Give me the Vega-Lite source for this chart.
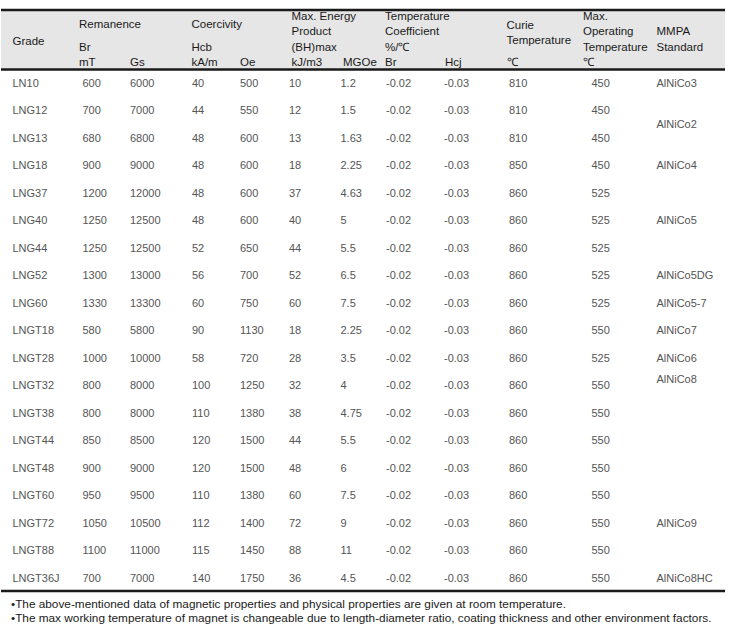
{
  "$schema": "https://vega.github.io/schema/vega-lite/v6.json",
  "width": 740,
  "height": 635,
  "padding": 0,
  "autosize": {"type": "none"},
  "background": "white",
  "config": {
    "view": {"stroke": null},
    "text": {"font": "Liberation Sans", "fontSize": 11}
  },
  "datasets": {
    "grades": [
      {"Grade": "LN10", "mT": 600, "Gs": 6000, "kAm": 40, "Oe": 500, "kJm3": 10, "MGOe": 1.2, "Br": -0.02, "Hcj": -0.03, "Curie": 810, "MaxOp": 450},
      {"Grade": "LNG12", "mT": 700, "Gs": 7000, "kAm": 44, "Oe": 550, "kJm3": 12, "MGOe": 1.5, "Br": -0.02, "Hcj": -0.03, "Curie": 810, "MaxOp": 450},
      {"Grade": "LNG13", "mT": 680, "Gs": 6800, "kAm": 48, "Oe": 600, "kJm3": 13, "MGOe": 1.63, "Br": -0.02, "Hcj": -0.03, "Curie": 810, "MaxOp": 450},
      {"Grade": "LNG18", "mT": 900, "Gs": 9000, "kAm": 48, "Oe": 600, "kJm3": 18, "MGOe": 2.25, "Br": -0.02, "Hcj": -0.03, "Curie": 850, "MaxOp": 450},
      {"Grade": "LNG37", "mT": 1200, "Gs": 12000, "kAm": 48, "Oe": 600, "kJm3": 37, "MGOe": 4.63, "Br": -0.02, "Hcj": -0.03, "Curie": 860, "MaxOp": 525},
      {"Grade": "LNG40", "mT": 1250, "Gs": 12500, "kAm": 48, "Oe": 600, "kJm3": 40, "MGOe": 5, "Br": -0.02, "Hcj": -0.03, "Curie": 860, "MaxOp": 525},
      {"Grade": "LNG44", "mT": 1250, "Gs": 12500, "kAm": 52, "Oe": 650, "kJm3": 44, "MGOe": 5.5, "Br": -0.02, "Hcj": -0.03, "Curie": 860, "MaxOp": 525},
      {"Grade": "LNG52", "mT": 1300, "Gs": 13000, "kAm": 56, "Oe": 700, "kJm3": 52, "MGOe": 6.5, "Br": -0.02, "Hcj": -0.03, "Curie": 860, "MaxOp": 525},
      {"Grade": "LNG60", "mT": 1330, "Gs": 13300, "kAm": 60, "Oe": 750, "kJm3": 60, "MGOe": 7.5, "Br": -0.02, "Hcj": -0.03, "Curie": 860, "MaxOp": 525},
      {"Grade": "LNGT18", "mT": 580, "Gs": 5800, "kAm": 90, "Oe": 1130, "kJm3": 18, "MGOe": 2.25, "Br": -0.02, "Hcj": -0.03, "Curie": 860, "MaxOp": 550},
      {"Grade": "LNGT28", "mT": 1000, "Gs": 10000, "kAm": 58, "Oe": 720, "kJm3": 28, "MGOe": 3.5, "Br": -0.02, "Hcj": -0.03, "Curie": 860, "MaxOp": 525},
      {"Grade": "LNGT32", "mT": 800, "Gs": 8000, "kAm": 100, "Oe": 1250, "kJm3": 32, "MGOe": 4, "Br": -0.02, "Hcj": -0.03, "Curie": 860, "MaxOp": 550},
      {"Grade": "LNGT38", "mT": 800, "Gs": 8000, "kAm": 110, "Oe": 1380, "kJm3": 38, "MGOe": 4.75, "Br": -0.02, "Hcj": -0.03, "Curie": 860, "MaxOp": 550},
      {"Grade": "LNGT44", "mT": 850, "Gs": 8500, "kAm": 120, "Oe": 1500, "kJm3": 44, "MGOe": 5.5, "Br": -0.02, "Hcj": -0.03, "Curie": 860, "MaxOp": 550},
      {"Grade": "LNGT48", "mT": 900, "Gs": 9000, "kAm": 120, "Oe": 1500, "kJm3": 48, "MGOe": 6, "Br": -0.02, "Hcj": -0.03, "Curie": 860, "MaxOp": 550},
      {"Grade": "LNGT60", "mT": 950, "Gs": 9500, "kAm": 110, "Oe": 1380, "kJm3": 60, "MGOe": 7.5, "Br": -0.02, "Hcj": -0.03, "Curie": 860, "MaxOp": 550},
      {"Grade": "LNGT72", "mT": 1050, "Gs": 10500, "kAm": 112, "Oe": 1400, "kJm3": 72, "MGOe": 9, "Br": -0.02, "Hcj": -0.03, "Curie": 860, "MaxOp": 550},
      {"Grade": "LNGT88", "mT": 1100, "Gs": 11000, "kAm": 115, "Oe": 1450, "kJm3": 88, "MGOe": 11, "Br": -0.02, "Hcj": -0.03, "Curie": 860, "MaxOp": 550},
      {"Grade": "LNGT36J", "mT": 700, "Gs": 7000, "kAm": 140, "Oe": 1750, "kJm3": 36, "MGOe": 4.5, "Br": -0.02, "Hcj": -0.03, "Curie": 860, "MaxOp": 550}
    ],
    "cols": [
      {"key": "Grade", "col": 0},
      {"key": "mT", "col": 1},
      {"key": "Gs", "col": 2},
      {"key": "kAm", "col": 3},
      {"key": "Oe", "col": 4},
      {"key": "kJm3", "col": 5},
      {"key": "MGOe", "col": 6},
      {"key": "Br", "col": 7},
      {"key": "Hcj", "col": 8},
      {"key": "Curie", "col": 9},
      {"key": "MaxOp", "col": 10}
    ]
  },
  "layer": [
    {
      "data": {"values": [{"part": "header band"}]},
      "mark": {"type": "rect", "color": "#e6e6e6"},
      "encoding": {
        "x": {"datum": -1, "type": "quantitative", "axis": null,
          "scale": {"type": "linear", "domain": [-1, 0, 1, 2, 3, 4, 5, 6, 7, 8, 9, 10, 11, 12], "range": [1, 12.5, 82.5, 130, 192, 240, 289, 340.5, 386, 444, 509, 591.5, 656.5, 725], "zero": false, "nice": false}},
        "x2": {"datum": 12},
        "y": {"datum": -5, "type": "quantitative", "axis": null,
          "scale": {"type": "linear", "domain": [-5, -4, -1, -0.5, 1, 19, 19.5, 20, 21], "range": [10, 17, 63, 69.5, 84, 578.5, 591, 603.5, 618], "zero": false, "nice": false}},
        "y2": {"datum": -0.5}
      }
    },
    {
      "data": {"values": [{"h": -5}, {"h": -0.5}, {"h": 19.5}]},
      "mark": {"type": "rule", "color": "#1a1a1a", "strokeWidth": 2.5},
      "encoding": {
        "x": {"datum": -1, "type": "quantitative", "axis": null,
          "scale": {"type": "linear", "domain": [-1, 0, 1, 2, 3, 4, 5, 6, 7, 8, 9, 10, 11, 12], "range": [1, 12.5, 82.5, 130, 192, 240, 289, 340.5, 386, 444, 509, 591.5, 656.5, 725], "zero": false, "nice": false}},
        "x2": {"datum": 12},
        "y": {"field": "h", "type": "quantitative", "axis": null,
          "scale": {"type": "linear", "domain": [-5, -4, -1, -0.5, 1, 19, 19.5, 20, 21], "range": [10, 17, 63, 69.5, 84, 578.5, 591, 603.5, 618], "zero": false, "nice": false}}
      }
    },
    {
      "data": {"values": [
        {"t": "Grade", "c": 0, "l": -2.4},
        {"t": "Remanence", "c": 1, "l": -3.5},
        {"t": "Br", "c": 1, "l": -2},
        {"t": "mT", "c": 1, "l": -1},
        {"t": "Gs", "c": 2, "l": -1},
        {"t": "Coercivity", "c": 3, "l": -3.5},
        {"t": "Hcb", "c": 3, "l": -2},
        {"t": "kA/m", "c": 3, "l": -1},
        {"t": "Oe", "c": 4, "l": -1},
        {"t": "Max. Energy", "c": 5, "l": -4},
        {"t": "Product", "c": 5, "l": -3},
        {"t": "(BH)max", "c": 5, "l": -2},
        {"t": "kJ/m3", "c": 5, "l": -1},
        {"t": "MGOe", "c": 6, "l": -1},
        {"t": "Temperature", "c": 7, "l": -4},
        {"t": "Coefficient", "c": 7, "l": -3},
        {"t": "%/℃", "c": 7, "l": -2},
        {"t": "Br", "c": 7, "l": -1},
        {"t": "Hcj", "c": 8, "l": -1},
        {"t": "Curie", "c": 9, "l": -3.4},
        {"t": "Temperature", "c": 9, "l": -2.45},
        {"t": "℃", "c": 9, "l": -1},
        {"t": "Max.", "c": 10, "l": -4},
        {"t": "Operating", "c": 10, "l": -3},
        {"t": "Temperature", "c": 10, "l": -2},
        {"t": "℃", "c": 10, "l": -1},
        {"t": "MMPA", "c": 11, "l": -3},
        {"t": "Standard", "c": 11, "l": -2}
      ]},
      "mark": {"type": "text", "align": "left", "baseline": "middle", "color": "#1a1a1a", "fontSize": 11.5},
      "encoding": {
        "x": {"field": "c", "type": "quantitative", "axis": null,
          "scale": {"type": "linear", "domain": [0, 1, 2, 3, 4, 5, 6, 7, 8, 9, 10, 11], "range": [12.5, 79, 130, 191.5, 240, 291.5, 343, 385, 445, 506.5, 583, 656.5], "zero": false, "nice": false}},
        "y": {"field": "l", "type": "quantitative", "axis": null,
          "scale": {"type": "linear", "domain": [-5, -4, -1, -0.5, 1, 19, 19.5, 20, 21], "range": [10, 17, 63, 69.5, 84, 578.5, 591, 603.5, 618], "zero": false, "nice": false}},
        "text": {"field": "t", "type": "nominal"}
      }
    },
    {
      "data": {"name": "grades"},
      "transform": [
        {"window": [{"op": "row_number", "as": "row"}]},
        {"fold": ["Grade", "mT", "Gs", "kAm", "Oe", "kJm3", "MGOe", "Br", "Hcj", "Curie", "MaxOp"]},
        {"lookup": "key", "from": {"data": {"name": "cols"}, "key": "key", "fields": ["col"]}}
      ],
      "mark": {"type": "text", "align": "left", "baseline": "middle", "color": "#555555"},
      "encoding": {
        "x": {"field": "col", "type": "quantitative", "axis": null,
          "scale": {"type": "linear", "domain": [-1, 0, 1, 2, 3, 4, 5, 6, 7, 8, 9, 10, 11, 12], "range": [1, 12.5, 82.5, 130, 192, 240, 289, 340.5, 386, 444, 509, 591.5, 656.5, 725], "zero": false, "nice": false}},
        "y": {"field": "row", "type": "quantitative", "axis": null,
          "scale": {"type": "linear", "domain": [-5, -4, -1, -0.5, 1, 19, 19.5, 20, 21], "range": [10, 17, 63, 69.5, 84, 578.5, 591, 603.5, 618], "zero": false, "nice": false}},
        "text": {"field": "value", "type": "nominal"}
      }
    },
    {
      "data": {"values": [
        {"s": "AlNiCo3", "r": 1},
        {"s": "AlNiCo2", "r": 2.5},
        {"s": "AlNiCo4", "r": 4},
        {"s": "AlNiCo5", "r": 6},
        {"s": "AlNiCo5DG", "r": 8},
        {"s": "AlNiCo5-7", "r": 9},
        {"s": "AlNiCo7", "r": 10},
        {"s": "AlNiCo6", "r": 11},
        {"s": "AlNiCo8", "r": 11.78},
        {"s": "AlNiCo9", "r": 17},
        {"s": "AlNiCo8HC", "r": 19}
      ]},
      "mark": {"type": "text", "align": "left", "baseline": "middle", "color": "#555555"},
      "encoding": {
        "x": {"datum": 11, "type": "quantitative", "axis": null,
          "scale": {"type": "linear", "domain": [-1, 0, 1, 2, 3, 4, 5, 6, 7, 8, 9, 10, 11, 12], "range": [1, 12.5, 82.5, 130, 192, 240, 289, 340.5, 386, 444, 509, 591.5, 656.5, 725], "zero": false, "nice": false}},
        "y": {"field": "r", "type": "quantitative", "axis": null,
          "scale": {"type": "linear", "domain": [-5, -4, -1, -0.5, 1, 19, 19.5, 20, 21], "range": [10, 17, 63, 69.5, 84, 578.5, 591, 603.5, 618], "zero": false, "nice": false}},
        "text": {"field": "s", "type": "nominal"}
      }
    },
    {
      "data": {"values": [
        {"note": "•The above-mentioned data of magnetic properties and physical properties are given at room temperature.", "l": 20},
        {"note": "•The max working temperature of magnet is changeable due to length-diameter ratio, coating thickness and other environment factors.", "l": 21}
      ]},
      "mark": {"type": "text", "align": "left", "baseline": "middle", "color": "#1a1a1a", "fontSize": 11.8},
      "encoding": {
        "x": {"datum": 0, "type": "quantitative", "axis": null,
          "scale": {"type": "linear", "domain": [0, 1], "range": [11, 725], "zero": false, "nice": false}},
        "y": {"field": "l", "type": "quantitative", "axis": null,
          "scale": {"type": "linear", "domain": [-5, -4, -1, -0.5, 1, 19, 19.5, 20, 21], "range": [10, 17, 63, 69.5, 84, 578.5, 591, 603.5, 618], "zero": false, "nice": false}},
        "text": {"field": "note", "type": "nominal"}
      }
    }
  ],
  "resolve": {"scale": {"x": "independent"}}
}
